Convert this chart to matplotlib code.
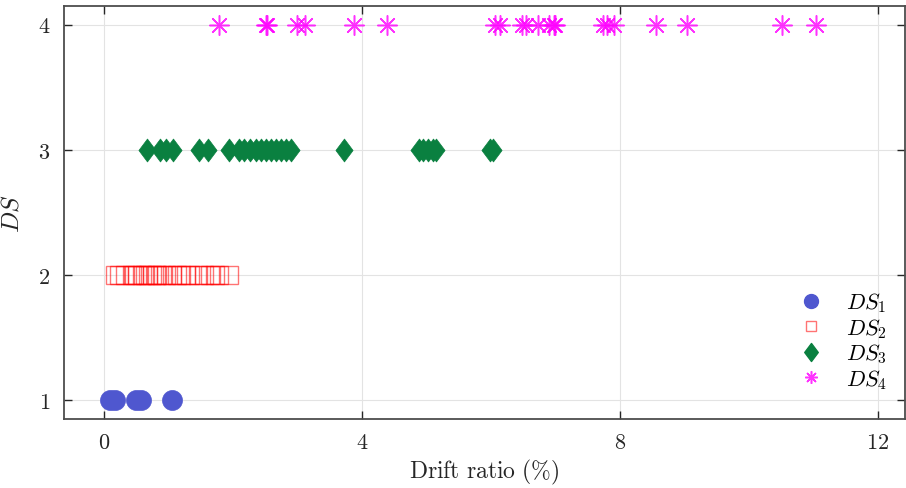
import matplotlib
matplotlib.use("Agg")
import matplotlib.pyplot as plt
from matplotlib.path import Path
from matplotlib.lines import Line2D
import numpy as np

plt.rcParams['mathtext.fontset'] = 'cm'
plt.rcParams['font.family'] = 'serif'
plt.rcParams['font.serif'] = ['cmr10', 'DejaVu Serif']
plt.rcParams['axes.formatter.use_mathtext'] = True

ds1 = [0.10, 0.17, 0.49, 0.58, 1.05]
ds2 = [0.17, 0.24, 0.32, 0.43, 0.46, 0.52, 0.59, 0.63, 0.69, 0.74, 0.80, 0.83,
       0.90, 0.96, 1.06, 1.13, 1.19, 1.27, 1.34, 1.46, 1.55, 1.65, 1.73, 1.78, 1.94]
ds3 = [0.67, 0.87, 0.97, 1.07, 1.47, 1.62, 1.94, 2.10, 2.18, 2.26, 2.36, 2.44,
       2.52, 2.59, 2.67, 2.75, 2.83, 2.90, 3.72, 4.89, 4.95, 5.02, 5.10, 5.15,
       5.99, 6.04]
ds4 = [1.79, 2.51, 2.53, 2.99, 3.12, 3.88, 4.39, 6.06, 6.15, 6.48, 6.54, 6.73,
       6.91, 6.98, 7.00, 7.74, 7.80, 7.91, 8.57, 9.04, 10.51, 11.04]
levels = [1, 2, 3, 4]
xticks = [0, 4, 8, 12]
labels = [r'$DS_1$', r'$DS_2$', r'$DS_3$', r'$DS_4$']

diamond = Path([(0, 1), (0.75, 0), (0, -1), (-0.75, 0), (0, 1)],
               [Path.MOVETO, Path.LINETO, Path.LINETO, Path.LINETO, Path.CLOSEPOLY])

c1 = '#4F57CF'
c2 = (1.0, 0.0, 0.0, 0.55)
c3 = '#0A8040'
c4 = (1.0, 0.0, 1.0, 0.8)

fig = plt.figure(figsize=(9.06, 4.89), dpi=100)
ax = fig.add_axes([0.0706, 0.141, 0.928, 0.845])

ax.plot(ds1, [levels[0]] * len(ds1), linestyle='none', marker='o', ms=14.4,
        mfc=c1, mec=c1, mew=0.5, zorder=3)
ax.plot(ds2, [levels[1]] * len(ds2), linestyle='none', marker='s', ms=13,
        mfc='none', mec=c2, mew=1.0, zorder=3)
ax.plot(ds3, [levels[2]] * len(ds3), linestyle='none', marker=diamond, ms=16.5,
        mfc=c3, mec=c3, mew=0.5, zorder=3)
ax.plot(ds4, [levels[3]] * len(ds4), linestyle='none', marker=(8, 2, 0), ms=14.4,
        mfc=c4, mec=c4, mew=1.1, zorder=3)

ax.set_xlim(-0.62, 12.42)
ax.set_ylim(0.85, 4.15)
ax.set_xticks(xticks)
ax.set_yticks(levels)
ax.set_xticklabels([f'${t}$' for t in xticks])
ax.set_yticklabels([f'${t}$' for t in levels])
ax.tick_params(direction='in', length=6, width=1.0, top=True, right=True,
               labelsize=16, colors='#262626', pad=10)
ax.grid(True, color='#E3E3E3', linewidth=0.8, zorder=0)
ax.set_axisbelow(True)
for s in ax.spines.values():
    s.set_color('#4D4D4D')
    s.set_linewidth(1.3)

ax.set_xlabel(r'$\mathrm{Drift\ ratio\ (\%)}$', fontsize=17, color='#262626', labelpad=3)
ax.set_ylabel(r'$DS$', fontsize=18, color='#262626', labelpad=10)

handles = [
    Line2D([], [], linestyle='none', marker='o', ms=10, mfc=c1, mec=c1),
    Line2D([], [], linestyle='none', marker='s', ms=7.5, mfc='none', mec=c2, mew=1.0),
    Line2D([], [], linestyle='none', marker=diamond, ms=13, mfc=c3, mec=c3),
    Line2D([], [], linestyle='none', marker=(8, 2, 0), ms=9, mfc=c4, mec=c4, mew=1.1),
]
ax.legend(handles, labels, loc='lower right', bbox_to_anchor=(0.995, 0.036),
          frameon=False, fontsize=16, handletextpad=0.8, labelspacing=0.08,
          handlelength=1.5, borderaxespad=0.2)

fig.savefig('out.png', dpi=100)
